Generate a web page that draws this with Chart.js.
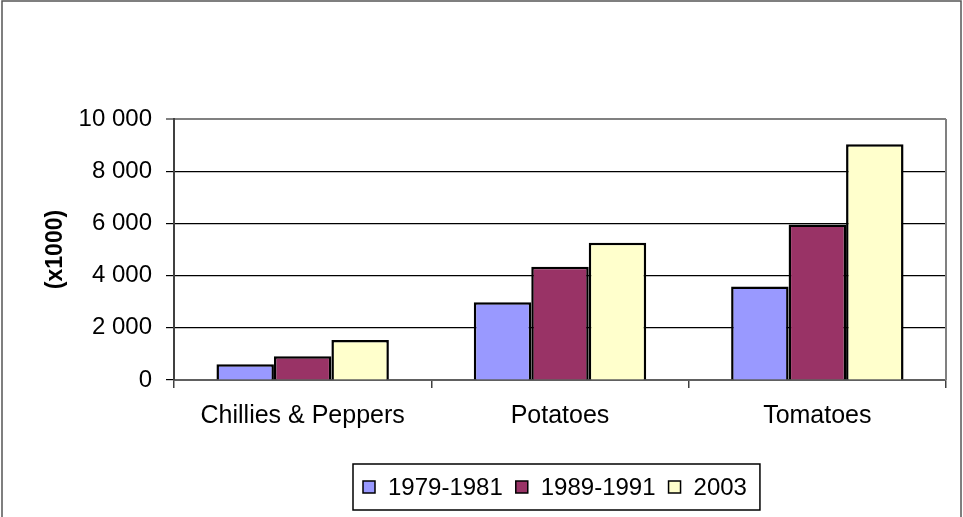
<!doctype html>
<html lang="en">
  <head>
    <meta charset="utf-8">
    <title>Production (x1000)</title>
    <script src="https://cdn.jsdelivr.net/npm/chart.js@4.4.1/dist/chart.umd.min.js"></script>
    <style>
      html, body {
        margin: 0;
        padding: 0;
        background: #ffffff;
      }
      #chart {
        display: block;
      }
    </style>
  </head>
  <body>
    <canvas id="chart" width="963" height="517"></canvas>
    <script>
      const categories = ['Chillies & Peppers', 'Potatoes', 'Tomatoes'];
      const seriesNames = ['1979-1981', '1989-1991', '2003'];
      const values1979 = [600, 2980, 3580];
      const values1989 = [910, 4340, 5960];
      const values2003 = [1530, 5260, 9030];
      const yTicks = [0, 2000, 4000, 6000, 8000, 10000];
      const colors = ['#9999FF', '#993366', '#FFFFCC'];

      const FONT = "'Liberation Sans', Arial, sans-serif";

      function withSpaces(v) {
        return String(v).replace(/\B(?=(\d{3})+(?!\d))/g, ' ');
      }

      // outer frame, right edge of the plot and the boxed legend
      const framePlugin = {
        id: 'frame',
        afterDraw(chart) {
          const ctx = chart.ctx;
          const area = chart.chartArea;
          ctx.save();

          ctx.strokeStyle = '#808080';
          ctx.lineWidth = 2;
          ctx.beginPath();
          ctx.moveTo(area.right, area.top);
          ctx.lineTo(area.right, area.bottom);
          ctx.stroke();

          ctx.strokeStyle = '#555555';
          ctx.lineWidth = 1.5;
          ctx.strokeRect(2, 1, 959, 520);

          // legend
          ctx.font = '24px ' + FONT;
          const pad = 10, sw = 12, gap = 13;
          const items = chart.data.datasets.map(ds => ({
            label: ds.label,
            color: ds.backgroundColor,
            w: ctx.measureText(ds.label).width
          }));
          let total = pad;
          items.forEach(it => { total += sw + gap + it.w + gap; });
          const boxTop = 464, boxH = 46;
          const boxLeft = Math.round((area.left + area.right) / 2 - total / 2) - 4;
          ctx.fillStyle = '#ffffff';
          ctx.fillRect(boxLeft, boxTop, total, boxH);
          ctx.strokeStyle = '#000000';
          ctx.lineWidth = 1.5;
          ctx.strokeRect(boxLeft, boxTop, total, boxH);

          const cy = boxTop + boxH / 2;
          let x = boxLeft + pad;
          ctx.textBaseline = 'middle';
          ctx.textAlign = 'left';
          items.forEach(it => {
            ctx.fillStyle = it.color;
            ctx.fillRect(x, cy - 6, sw, sw);
            ctx.strokeStyle = '#000000';
            ctx.lineWidth = 1.5;
            ctx.strokeRect(x, cy - 6, sw, sw);
            x += sw + gap;
            ctx.fillStyle = '#000000';
            ctx.fillText(it.label, x, cy + 1);
            x += it.w + gap;
          });

          ctx.restore();
        }
      };

      const datasets = [values1979, values1989, values2003].map((vals, i) => ({
        label: seriesNames[i],
        data: vals,
        backgroundColor: colors[i],
        borderColor: '#000000',
        borderWidth: 2.5,
        borderSkipped: 'start',
        categoryPercentage: 0.67,
        barPercentage: 1.0
      }));

      new Chart(document.getElementById('chart'), {
        type: 'bar',
        data: {
          labels: categories,
          datasets: datasets
        },
        plugins: [framePlugin],
        options: {
          responsive: false,
          animation: false,
          layout: {
            padding: { top: 119, right: 17, left: 0, bottom: 0 }
          },
          plugins: {
            legend: { display: false },
            tooltip: { enabled: false }
          },
          scales: {
            x: {
              afterFit(scale) { scale.height = 137; },
              grid: {
                offset: true,
                drawOnChartArea: false,
                drawTicks: true,
                tickLength: 8,
                color: '#404040',
                lineWidth: 1.5
              },
              border: { color: '#606060', width: 2 },
              ticks: {
                color: '#000000',
                font: { family: FONT, size: 25 },
                padding: 13,
                maxRotation: 0,
                autoSkip: false
              }
            },
            y: {
              min: 0,
              max: 10000,
              afterFit(scale) { scale.width = 174; },
              afterBuildTicks(scale) {
                scale.ticks = yTicks.map(v => ({ value: v }));
              },
              grid: {
                color: ctx => (ctx.tick && ctx.tick.value === 10000 ? '#808080' : '#000000'),
                lineWidth: ctx => (ctx.tick && ctx.tick.value === 10000 ? 2 : 1.2),
                tickLength: 8
              },
              border: { color: '#404040', width: 2 },
              ticks: {
                color: '#000000',
                font: { family: FONT, size: 24 },
                padding: 14,
                callback: v => withSpaces(v)
              },
              title: {
                display: true,
                text: '(x1000)',
                color: '#000000',
                font: { family: FONT, size: 23, weight: 'bold' },
                padding: { top: 42, bottom: 0 }
              }
            }
          }
        }
      });
    </script>
  </body>
</html>
